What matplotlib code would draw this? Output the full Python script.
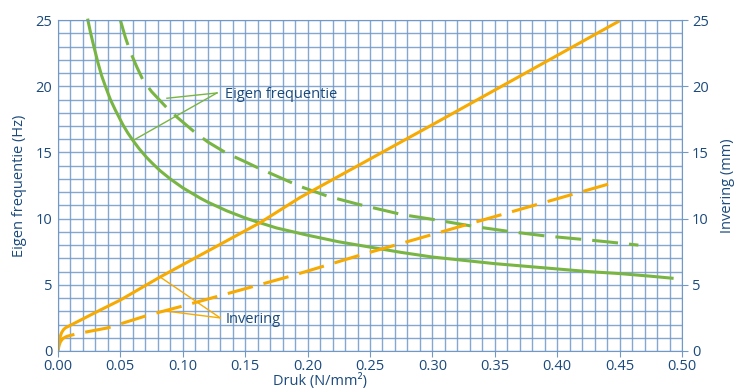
import matplotlib.pyplot as plt
import numpy as np

# Eigen frequentie (Hz), left axis
freq_solid_x = [0.024, 0.026, 0.028, 0.032, 0.035, 0.038, 0.042, 0.046, 0.052, 0.056,
                0.060, 0.065, 0.071, 0.075, 0.082, 0.090, 0.100, 0.114, 0.120, 0.135,
                0.150, 0.159, 0.175, 0.200, 0.225, 0.250, 0.275, 0.300, 0.325, 0.350,
                0.375, 0.400, 0.425, 0.450, 0.475, 0.492]
freq_solid_y = [25.0, 24.1, 23.3, 21.8, 20.8, 20.0, 19.0, 18.2, 17.1, 16.47,
                15.92, 15.29, 14.63, 14.24, 13.61, 13.0, 12.33, 11.55, 11.25, 10.6,
                10.05, 9.77, 9.3, 8.75, 8.25, 7.85, 7.45, 7.1, 6.85, 6.6,
                6.4, 6.2, 6.0, 5.85, 5.65, 5.5]
freq_dash_x = [0.050, 0.054, 0.058, 0.063, 0.068, 0.075, 0.087, 0.095, 0.110, 0.120,
               0.135, 0.150, 0.160, 0.178, 0.195, 0.216, 0.240, 0.276, 0.300, 0.334,
               0.364, 0.390, 0.424, 0.440, 0.465]
freq_dash_y = [25.0, 23.7, 22.6, 21.5, 20.5, 19.6, 18.4, 17.7, 16.5, 15.8,
               14.95, 14.3, 13.85, 13.1, 12.4, 11.7, 11.1, 10.3, 9.95, 9.4,
               9.0, 8.7, 8.4, 8.25, 8.0]

# Invering (mm), right axis
inv_solid_x = [0.0, 0.001, 0.002, 0.003, 0.0045, 0.006, 0.034, 0.050, 0.082, 0.162,
               0.194, 0.300, 0.449]
inv_solid_y = [0.0, 0.8, 1.15, 1.4, 1.62, 1.75, 3.1, 3.85, 5.6, 9.7,
               11.6, 17.1, 24.9]
inv_dash_x = [0.0, 0.001, 0.002, 0.004, 0.007, 0.015, 0.040, 0.072, 0.100, 0.188,
              0.244, 0.274, 0.333, 0.448]
inv_dash_y = [0.0, 0.45, 0.7, 0.95, 1.1, 1.3, 1.75, 2.7, 3.4, 5.7,
              7.3, 8.1, 9.7, 12.8]

x_ticks = [0.0, 0.05, 0.10, 0.15, 0.20, 0.25, 0.30, 0.35, 0.40, 0.45, 0.50]
y_ticks = [0, 5, 10, 15, 20, 25]

GREEN = '#79b543'
ORANGE = '#f7aa00'
TEXT = '#1b4a7c'
GRID = '#7199c8'


def main():
    plt.rcParams['font.family'] = ['Open Sans', 'DejaVu Sans']
    fig = plt.figure(figsize=(7.43, 3.92), dpi=100)
    ax = fig.add_axes([0.078, 0.1046, 0.84, 0.844])

    ax.set_xlim(0, 0.5)
    ax.set_ylim(0, 25)
    ax.set_xticks(x_ticks)
    ax.set_xticklabels(['{:.2f}'.format(v) for v in x_ticks])
    ax.set_yticks(y_ticks)
    ax.set_xticks(np.arange(0, 0.5001, 0.01), minor=True)
    ax.set_yticks(np.arange(0, 25.001, 1), minor=True)
    ax.grid(which='both', color=GRID, linewidth=1.0, alpha=0.85)
    ax.set_axisbelow(True)
    ax.tick_params(axis='y', which='both', length=0, labelsize=10.5, colors=TEXT, pad=4)
    ax.tick_params(axis='x', which='major', length=4, color=GRID, labelsize=10.5,
                   labelcolor=TEXT, pad=2)
    ax.tick_params(axis='x', which='minor', length=0)
    for s in ax.spines.values():
        s.set_color(GRID)

    ax.plot(freq_solid_x, freq_solid_y, color=GREEN, linewidth=2.2, clip_on=False)
    ax.plot(freq_dash_x, freq_dash_y, color=GREEN, linewidth=2.2, dashes=(8.5, 3.6))
    ax.plot(inv_solid_x, inv_solid_y, color=ORANGE, linewidth=2.2)
    ax.plot(inv_dash_x, inv_dash_y, color=ORANGE, linewidth=2.2, dashes=(8.5, 3.6))

    ax.set_xlabel('Druk (N/mm²)', color=TEXT, fontsize=10.5)
    ax.xaxis.set_label_coords(0.42, -0.066)
    ax.set_ylabel('Eigen frequentie (Hz)', color=TEXT, fontsize=10.5, labelpad=6)

    ax2 = ax.twinx()
    ax2.set_ylim(0, 25)
    ax2.set_yticks(y_ticks)
    ax2.tick_params(axis='y', length=4, color=GRID, labelsize=10.5, labelcolor=TEXT, pad=3)
    for s in ax2.spines.values():
        s.set_visible(False)
    ax2.set_ylabel('Invering (mm)', color=TEXT, fontsize=10.5, labelpad=8)

    # annotations
    ax.text(0.134, 19.4, 'Eigen frequentie', color=TEXT, fontsize=10.5, va='center', ha='left')
    ax.plot([0.1274, 0.0873], [19.5, 19.1], color=GREEN, linewidth=1.0)
    ax.plot([0.1274, 0.060], [19.5, 15.9], color=GREEN, linewidth=1.0)
    ax.text(0.134, 2.35, 'Invering', color=TEXT, fontsize=10.5, va='center', ha='left')
    ax.plot([0.130, 0.0817], [2.5, 5.6], color=ORANGE, linewidth=1.0)
    ax.plot([0.130, 0.088], [2.5, 3.0], color=ORANGE, linewidth=1.0)

    fig.savefig('out.png', dpi=100)


if __name__ == '__main__':
    main()
